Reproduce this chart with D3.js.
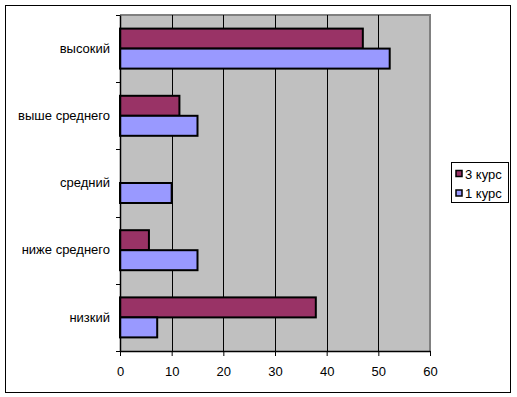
<!DOCTYPE html>
<html>
<head>
<meta charset="utf-8">
<script src="https://cdn.jsdelivr.net/npm/d3@7"></script>
<style>
  body { margin: 0; background: #fff; }
  svg { display: block; font-family: "Liberation Sans", Arial, sans-serif; }
</style>
</head>
<body>
<svg id="chart" width="517" height="397"></svg>
<script>
const categories = ['высокий', 'выше среднего', 'средний', 'ниже среднего', 'низкий'];
const seriesNames = ['3 курс', '1 курс'];
const course3 = [47, 11.5, 0, 5.6, 37.9];
const course1 = [52.2, 15, 10, 15, 7.2];
const seriesColors = ['#993366', '#9999FF'];
const xTicks = [0, 10, 20, 30, 40, 50, 60];

const svg = d3.select('#chart');
const plot = { left: 120, top: 15, right: 430, bottom: 351 };
const fontFamily = '"Liberation Sans", Arial, sans-serif';

// outer frame
svg.append('rect')
  .attr('x', 5.5).attr('y', 5.5)
  .attr('width', 505).attr('height', 387)
  .attr('fill', '#fff').attr('stroke', '#000').attr('stroke-width', 1);

const x = d3.scaleLinear().domain([0, 60]).range([plot.left, plot.right]);
const y = d3.scaleBand().domain(categories).range([plot.top, plot.bottom]);
const inner = d3.scaleBand().domain(seriesNames).range([0, y.bandwidth()]).paddingInner(0).paddingOuter(0.68);

// plot background
svg.append('rect')
  .attr('x', plot.left).attr('y', plot.top)
  .attr('width', plot.right - plot.left).attr('height', plot.bottom - plot.top)
  .attr('fill', '#C0C0C0');

// gray border top/right
svg.append('path')
  .attr('d', `M${plot.left},${plot.top} H${plot.right} V${plot.bottom}`)
  .attr('fill', 'none').attr('stroke', '#808080').attr('stroke-width', 2);

// gridlines
svg.append('g')
  .selectAll('line')
  .data(xTicks.slice(1, -1))
  .join('line')
  .attr('x1', d => Math.round(x(d)) + 0.5).attr('x2', d => Math.round(x(d)) + 0.5)
  .attr('y1', plot.top).attr('y2', plot.bottom)
  .attr('stroke', '#000').attr('stroke-width', 1);

// bars
const rows = categories.map((c, i) => ({ cat: c, vals: [course3[i], course1[i]] }));
const groups = svg.append('g').selectAll('g')
  .data(rows)
  .join('g')
  .attr('transform', d => `translate(0,${y(d.cat)})`);

groups.selectAll('rect')
  .data(d => d.vals.map((v, j) => ({ v, s: seriesNames[j], j })).filter(e => e.v > 0))
  .join('rect')
  .attr('x', x(0))
  .attr('y', d => inner(d.s))
  .attr('width', d => x(d.v) - x(0))
  .attr('height', inner.bandwidth())
  .attr('fill', d => seriesColors[d.j])
  .attr('stroke', '#000')
  .attr('stroke-width', 2);

// x axis
const xAxis = svg.append('g')
  .attr('transform', `translate(0,${plot.bottom})`)
  .call(d3.axisBottom(x).tickValues(xTicks).tickSize(5).tickSizeOuter(0).tickPadding(11));
xAxis.select('.domain').attr('stroke', '#000').attr('stroke-width', 1.5);
xAxis.selectAll('.tick line').attr('stroke', '#000');
xAxis.selectAll('text').attr('font-size', 13).attr('fill', '#000')
  .attr('font-family', fontFamily);

// y axis
const yAxis = svg.append('g')
  .attr('transform', `translate(${plot.left},0)`)
  .call(d3.axisLeft(y).tickSize(0).tickPadding(10));
yAxis.select('.domain').attr('stroke', '#000').attr('stroke-width', 1.5);
yAxis.selectAll('text').attr('font-size', 13).attr('fill', '#000')
  .attr('font-family', fontFamily);

// category boundary ticks
svg.append('g')
  .selectAll('line')
  .data(categories.map(c => y(c)).concat([plot.bottom]))
  .join('line')
  .attr('x1', plot.left - 4).attr('x2', plot.left)
  .attr('y1', d => Math.round(d) + 0.5).attr('y2', d => Math.round(d) + 0.5)
  .attr('stroke', '#000');

// legend
const legend = svg.append('g').attr('transform', 'translate(451,162)');
legend.append('rect')
  .attr('x', 0.5).attr('y', 0.5).attr('width', 57).attr('height', 40)
  .attr('fill', '#fff').attr('stroke', '#000');
const items = legend.selectAll('g.item')
  .data(seriesNames)
  .join('g')
  .attr('class', 'item')
  .attr('transform', (d, i) => `translate(5,${12 + i * 19.5})`);
items.append('rect')
  .attr('x', 0).attr('y', -3.5).attr('width', 6).attr('height', 6)
  .attr('fill', (d, i) => seriesColors[i])
  .attr('stroke', '#000').attr('stroke-width', 1.5);
items.append('text')
  .attr('x', 9).attr('y', 0).attr('dy', '0.35em')
  .attr('font-size', 13)
  .text(d => d);
</script>
</body>
</html>
